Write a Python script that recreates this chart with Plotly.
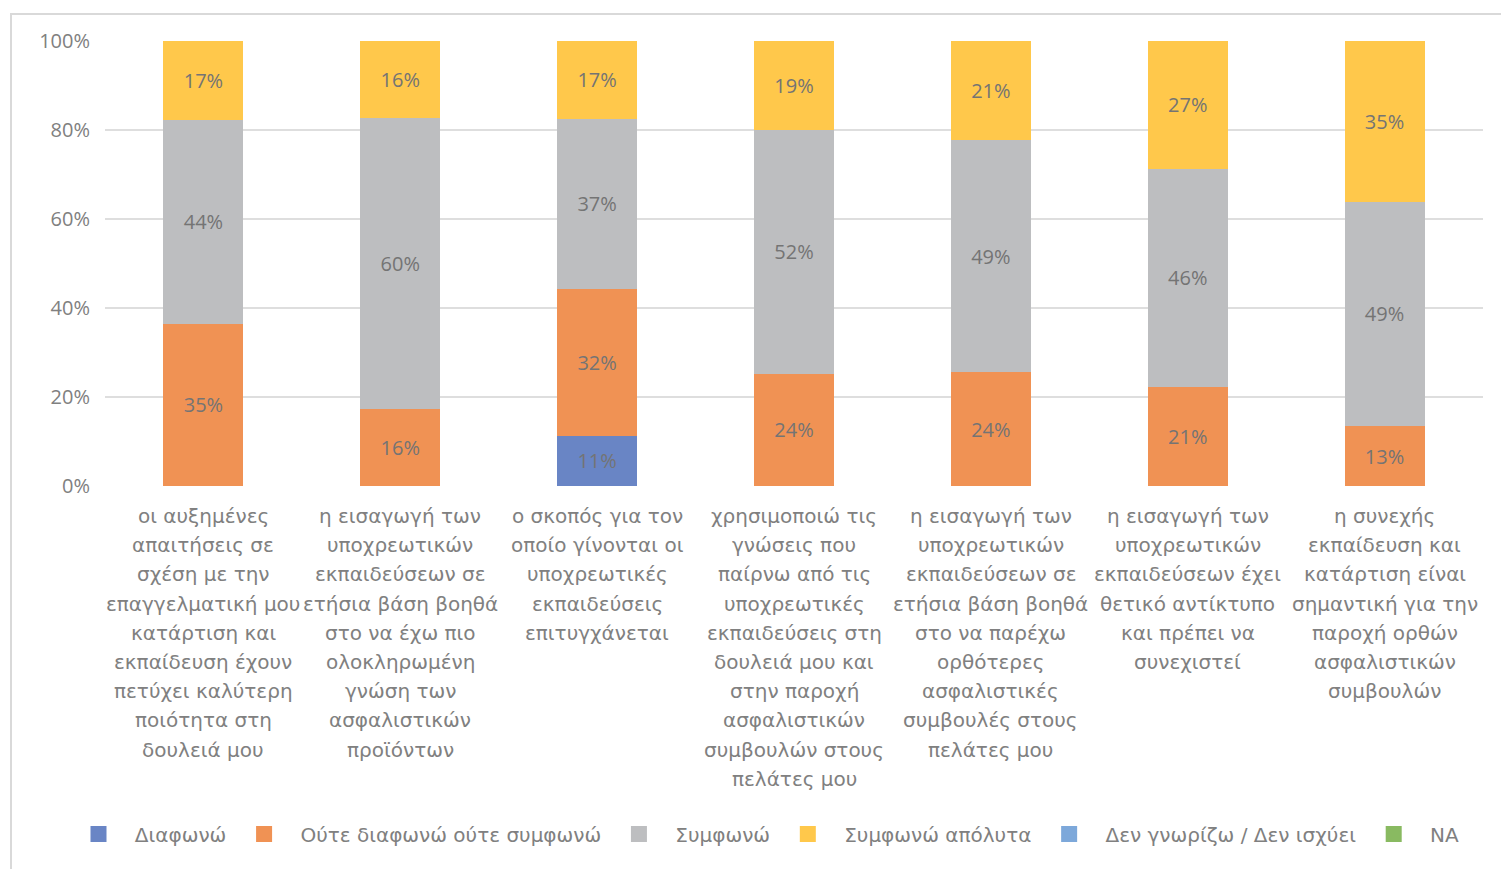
import plotly.graph_objects as go

# Survey statements, stored as the wrapped lines shown under each bar
label_lines = [
    ["οι αυξημένες", "απαιτήσεις σε", "σχέση με την", "επαγγελματική μου", "κατάρτιση και",
     "εκπαίδευση έχουν", "πετύχει καλύτερη", "ποιότητα στη", "δουλειά μου"],
    ["η εισαγωγή των", "υποχρεωτικών", "εκπαιδεύσεων σε", "ετήσια βάση βοηθά", "στο να έχω πιο",
     "ολοκληρωμένη", "γνώση των", "ασφαλιστικών", "προϊόντων"],
    ["ο σκοπός για τον", "οποίο γίνονται οι", "υποχρεωτικές", "εκπαιδεύσεις", "επιτυγχάνεται"],
    ["χρησιμοποιώ τις", "γνώσεις που", "παίρνω από τις", "υποχρεωτικές", "εκπαιδεύσεις στη",
     "δουλειά μου και", "στην παροχή", "ασφαλιστικών", "συμβουλών στους", "πελάτες μου"],
    ["η εισαγωγή των", "υποχρεωτικών", "εκπαιδεύσεων σε", "ετήσια βάση βοηθά", "στο να παρέχω",
     "ορθότερες", "ασφαλιστικές", "συμβουλές στους", "πελάτες μου"],
    ["η εισαγωγή των", "υποχρεωτικών", "εκπαιδεύσεων έχει", "θετικό αντίκτυπο", "και πρέπει να",
     "συνεχιστεί"],
    ["η συνεχής", "εκπαίδευση και", "κατάρτιση είναι", "σημαντική για την", "παροχή ορθών",
     "ασφαλιστικών", "συμβουλών"],
]
categories = [" ".join(lines) for lines in label_lines]

# Response shares (%) per statement
series_names = ["Διαφωνώ", "Ούτε διαφωνώ ούτε συμφωνώ", "Συμφωνώ", "Συμφωνώ απόλυτα",
                "Δεν γνωρίζω / Δεν ισχύει", "NA"]
disagree = [0, 0, 11, 0, 0, 0, 0]
neutral = [35, 16, 32, 24, 24, 21, 13]
agree = [44, 60, 37, 52, 49, 46, 49]
strongly_agree = [17, 16, 17, 19, 21, 27, 35]
dont_know = [0, 0, 0, 0, 0, 0, 0]
no_answer = [0, 0, 0, 0, 0, 0, 0]

y_ticks = [0, 20, 40, 60, 80, 100]
y_tick_text = ["0%", "20%", "40%", "60%", "80%", "100%"]

colors = ["#6985C5", "#F09254", "#BDBEC0", "#FFC84B", "#7DA8DA", "#89BA61"]
TEXT_FONT = "DejaVu Sans, Open Sans, sans-serif"
NUM_FONT = "Open Sans, Noto Sans, sans-serif"
TEXT_GRAY = "#808080"
BAR_TEXT = "#747474"

LEAD = "\u2002\u00a0"
TRAIL = "\u00a0\u00a0"

fig = go.Figure()
all_series = [disagree, neutral, agree, strongly_agree, dont_know, no_answer]
for name, vals, col in zip(series_names, all_series, colors):
    fig.add_trace(go.Bar(
        x=categories, y=vals, name=name, marker=dict(color=col, line=dict(width=0)),
        text=[f"{v}%" if v > 0 else "" for v in vals],
        textposition="inside", insidetextanchor="middle", textangle=0,
        insidetextfont=dict(family=NUM_FONT, size=20, color=BAR_TEXT),
        showlegend=False, hoverinfo="skip",
    ))
    # legend swatch
    fig.add_trace(go.Scatter(
        x=[None], y=[None], mode="markers", name=LEAD + name + TRAIL,
        marker=dict(symbol="square", size=16, color=col), showlegend=True,
    ))

# multi-line category labels below the axis
for cat, lines in zip(categories, label_lines):
    for i, line in enumerate(lines):
        fig.add_annotation(
            x=cat, xref="x", y=0, yref="paper", yshift=-(30 + 29.2 * i),
            yanchor="middle", xanchor="center", text=line, showarrow=False,
            font=dict(family=TEXT_FONT, size=20, color=TEXT_GRAY),
        )

L, R, T, B = 105, 18, 41, 383
W, H = 1501, 869
pw, ph = W - L - R, H - T - B

# outer chart frame
fig.add_shape(
    type="rect", xref="paper", yref="paper",
    x0=(11 - L) / pw, x1=(W + 20 - L) / pw,
    y0=(H - B - (H + 20)) / ph, y1=(H - B - 14) / ph,
    line=dict(color="#D9D9D9", width=2), fillcolor="rgba(0,0,0,0)", layer="below",
)

fig.update_layout(
    width=W, height=H,
    barmode="stack", barnorm="percent", bargap=0.594,
    paper_bgcolor="white", plot_bgcolor="white",
    margin=dict(l=L, r=R, t=T, b=B),
    font=dict(family=TEXT_FONT, size=20, color=TEXT_GRAY),
    xaxis=dict(showticklabels=False, showgrid=False, zeroline=False, showline=False,
               ticks="", range=[-0.5, 6.5]),
    yaxis=dict(range=[0, 100], tickvals=y_ticks, ticktext=y_tick_text,
               showgrid=True, gridcolor="#DEDEDE", gridwidth=2,
               zeroline=False, showline=False, ticks="", ticklabelstandoff=14,
               tickfont=dict(family=NUM_FONT, size=20, color=TEXT_GRAY)),
    legend=dict(orientation="h", x=(78.5 - L) / pw, xanchor="left",
                y=(H - B - 834) / ph, yanchor="middle", traceorder="normal",
                font=dict(family=TEXT_FONT, size=20, color=TEXT_GRAY),
                itemclick=False, bgcolor="rgba(0,0,0,0)"),
    showlegend=True,
)

fig.write_html("out.html")
